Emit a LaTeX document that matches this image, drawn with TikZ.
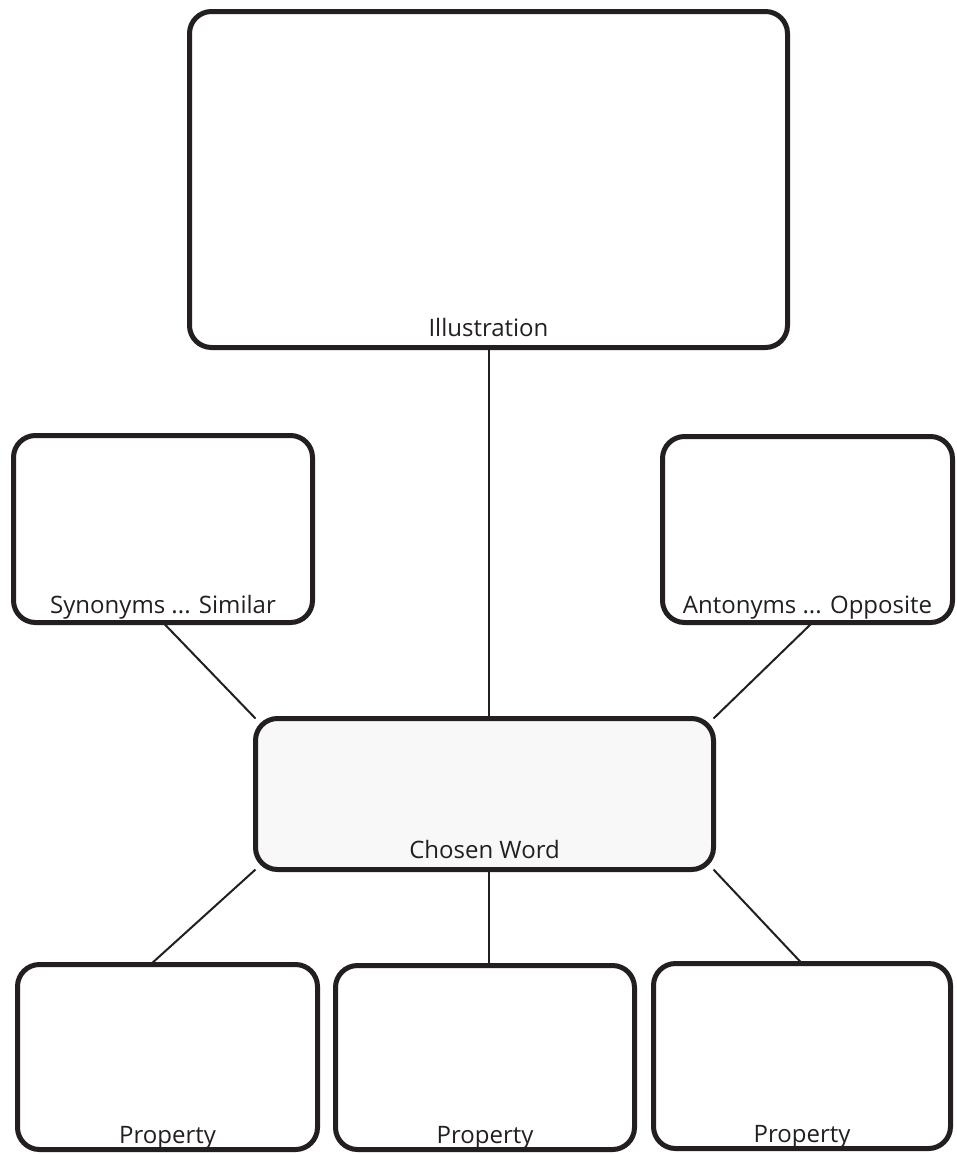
\documentclass[tikz,border=0pt]{standalone}
\usepackage{fontspec}
\setmainfont{Open Sans}
\usetikzlibrary{calc}
\pgfdeclarelayer{bg}
\pgfdeclarelayer{paper}
\pgfsetlayers{paper,bg,main}
\definecolor{ink}{HTML}{231F20}
\definecolor{cwfill}{HTML}{F8F8F8}
\tikzset{
  box/.style={draw=ink, line width=5pt, rounded corners=22pt, fill=white, inner sep=0pt, outer sep=0pt},
  lbl/.style={font=\fontsize{24}{28}\selectfont, text=ink, anchor=base, inner sep=0pt},
  conn/.style={draw=ink, line width=2pt}
}
\begin{document}
\begin{tikzpicture}[x=1pt,y=-1pt]
\begin{pgfonlayer}{paper}
\useasboundingbox[fill=white] (0,0) rectangle (956,1154);
\end{pgfonlayer}
% boxes
\node[box, minimum width=598pt, minimum height=336pt] (ill) at (488.5,179.5) {};
\node[box, minimum width=299pt, minimum height=187pt] (syn) at (163,529) {};
\node[box, minimum width=290pt, minimum height=186pt] (ant) at (807.5,529.5) {};
\node[box, fill=cwfill, minimum width=458pt, minimum height=151pt] (cw) at (484.5,794) {};
\node[box, minimum width=300pt, minimum height=185pt] (p1) at (167.5,1057) {};
\node[box, minimum width=299pt, minimum height=184pt] (p2) at (485,1057.5) {};
\node[box, minimum width=297pt, minimum height=185pt] (p3) at (802,1056) {};
% labels
\node[lbl] (illl) at ($(ill.south)+(0,-11.5)$) {Illustration};
\node[lbl] (synl) at ($(syn.south)+(0,-9.5)$) {Synonyms ... Similar};
\node[lbl] (antl) at ($(ant.south)+(0,-9.5)$) {Antonyms ... Opposite};
\node[lbl] (cwl) at ($(cw.south)+(0,-11.5)$) {Chosen Word};
\node[lbl] (p1l) at ($(p1.south)+(0,-6.5)$) {Property};
\node[lbl] (p2l) at ($(p2.south)+(0,-6.5)$) {Property};
\node[lbl] (p3l) at ($(p3.south)+(0,-6.5)$) {Property};
% connectors
\begin{pgfonlayer}{bg}
\draw[conn] (ill.south) -- (ill.south |- cw.north);
\draw[conn] (ill.south |- cw.south) -- (ill.south |- p2.north);
\draw[conn] (syn.south) -- (cw.north west);
\draw[conn] ($(ant.south)+(5,0)$) -- (cw.north east);
\draw[conn] (cw.south west) -- ($(p1.north)+(-17,0)$);
\draw[conn] (cw.south east) -- (p3.north);
\end{pgfonlayer}
\end{tikzpicture}
\end{document}
